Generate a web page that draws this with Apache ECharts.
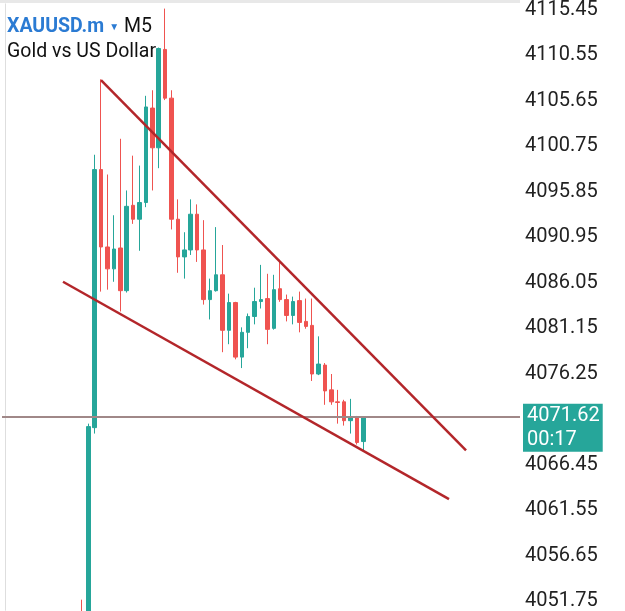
<!DOCTYPE html>
<html><head><meta charset="utf-8">
<script src="https://cdn.jsdelivr.net/npm/echarts@6/dist/echarts.min.js"></script>
<style>html,body{margin:0;padding:0;background:#fff}#c{width:625px;height:611px}</style>
</head><body><div id="c"></div>
<script>
const symbolName = 'XAUUSD.m';
const timeframe = 'M5';
const description = 'Gold vs US Dollar';
const leadingEmpty = 12;
const trailingEmpty = 24;
const opens  = [4049.0,4048.0,4070.44,4098.25,4089.91,4087.55,4089.8,4085.2,4094.4,4092.9,4094.7,4104.88,4100.6,4111.2,4105.95,4092.9,4088.84,4089.59,4093.44,4089.59,4084.24,4085.2,4086.91,4080.93,4083.92,4078.04,4080.71,4082.42,4084.03,4084.35,4081.14,4085.41,4084.24,4082.53,4084.13,4081.89,4081.46,4076.22,4077.18,4074.51,4073.22,4073.22,4071.19,4071.62,4068.94];
const closes = [4047.0,4070.55,4098.25,4089.91,4087.55,4089.69,4085.2,4094.29,4092.9,4094.7,4105.0,4100.6,4111.3,4105.95,4092.9,4088.84,4089.59,4093.44,4089.59,4084.24,4085.2,4086.91,4080.93,4083.92,4078.04,4080.71,4082.42,4084.03,4084.24,4081.03,4085.31,4084.24,4082.53,4084.03,4081.78,4081.35,4076.22,4077.29,4074.4,4073.22,4073.15,4071.19,4071.62,4068.84,4071.62];
const lows   = [4045.0,4046.0,4069.8,4085.1,4085.31,4086.16,4082.96,4085.0,4092.4,4089.5,4094.2,4096.0,4098.4,4105.74,4091.8,4087.13,4086.5,4089.05,4088.3,4083.7,4082.1,4085.1,4078.57,4079.43,4077.8,4076.86,4079.0,4081.57,4083.28,4079.43,4081.0,4084.0,4081.89,4081.57,4080.71,4081.1,4075.47,4076.1,4072.9,4072.9,4070.87,4070.66,4069.8,4068.62,4067.98];
const highs  = [4051.9,4070.87,4099.85,4107.98,4097.72,4093.33,4101.57,4096.0,4099.75,4098.68,4106.2,4106.8,4111.4,4115.6,4106.8,4095.04,4091.5,4095.04,4094.5,4092.8,4086.5,4092.05,4090.12,4084.88,4084.0,4081.25,4082.74,4085.52,4087.98,4087.02,4086.91,4088.52,4084.78,4084.56,4085.1,4084.35,4084.35,4080.28,4077.4,4076.22,4074.51,4073.44,4073.54,4071.7,4071.62];
const yTickLabels = [4115.45,4110.55,4105.65,4100.75,4095.85,4090.95,4086.05,4081.15,4076.25,4066.45,4061.55,4056.65,4051.75];
const currentPrice = 4071.62;
const countdown = '00:17';
const upperTrend = [[14.98,4107.88],[72.06,4067.98]];
const lowerTrend = [[9.04,4086.16],[69.4,4062.74]];

const totalSlots = leadingEmpty + opens.length + trailingEmpty;
const categories = [];
for (let i = 0; i < totalSlots; i++) categories.push(String(i));
const candleData = [];
for (let i = 0; i < leadingEmpty; i++) candleData.push('-');
for (let i = 0; i < opens.length; i++) candleData.push([opens[i], closes[i], lows[i], highs[i]]);
for (let i = 0; i < trailingEmpty; i++) candleData.push('-');

const UP = '#26a69a', DOWN = '#ef5350', TREND = '#b3262a';
const chart = echarts.init(document.getElementById('c'));
chart.setOption({
  animation: false,
  backgroundColor: '#fff',
  title: {
    left: 7, top: 17, itemGap: 5, padding: 0,
    text: '{s|' + symbolName + '} {t|▼} {m|' + timeframe + '}',
    textStyle: { rich: {
      s: { fontFamily: 'Roboto', fontWeight: 'bold', fontSize: 19.5, color: '#2b7bd3' },
      t: { fontFamily: 'Roboto', fontSize: 10, color: '#2b7bd3' },
      m: { fontFamily: 'Roboto', fontWeight: 'normal', fontSize: 19.5, color: '#111' }
    }},
    subtext: description,
    subtextStyle: { fontFamily: 'Roboto', fontSize: 19.5, color: '#111' }
  },
  graphic: [{ type: 'rect', left: 0, top: 0, shape: { width: 520, height: 3 }, style: { fill: '#e8e8e8' }, z: 10 }],
  grid: { left: 2, right: 105, top: 0, bottom: 0 },
  xAxis: [
    { type: 'category', data: categories, show: false, boundaryGap: true },
    { type: 'value', min: -0.5, max: totalSlots - 0.5, show: false }
  ],
  yAxis: {
    type: 'value', position: 'right', min: 4050.76, max: 4116.11, scale: true,
    axisLine: { show: true, lineStyle: { color: '#dedede', width: 1 } },
    axisTick: { show: false }, splitLine: { show: false },
    axisLabel: { customValues: yTickLabels, formatter: v => v.toFixed(2), fontFamily: 'Roboto', fontSize: 20, color: '#222', margin: 5 }
  },
  series: [
    {
      type: 'candlestick', data: candleData, barWidth: 4, clip: true,
      itemStyle: { color: UP, color0: DOWN, borderColor: UP, borderColor0: DOWN, borderWidth: 1 },
      markLine: {
        silent: true, symbol: ['none', 'none'], animation: false,
        data: [{ yAxis: currentPrice }],
        lineStyle: { color: '#a08888', width: 2, type: 'solid' },
        label: {
          show: true, position: 'end', distance: 3, offset: [0, 11],
          formatter: () => currentPrice.toFixed(2) + '\n' + countdown,
          backgroundColor: UP, color: '#fff', fontFamily: 'Roboto', fontSize: 20, lineHeight: 24, padding: [0, 3, 0, 4]
        }
      }
    },
    { type: 'line', xAxisIndex: 1, data: upperTrend, symbol: 'none', lineStyle: { color: TREND, width: 2.5 }, z: 5 },
    { type: 'line', xAxisIndex: 1, data: lowerTrend, symbol: 'none', lineStyle: { color: TREND, width: 2.5 }, z: 5 }
  ]
});
</script></body></html>
